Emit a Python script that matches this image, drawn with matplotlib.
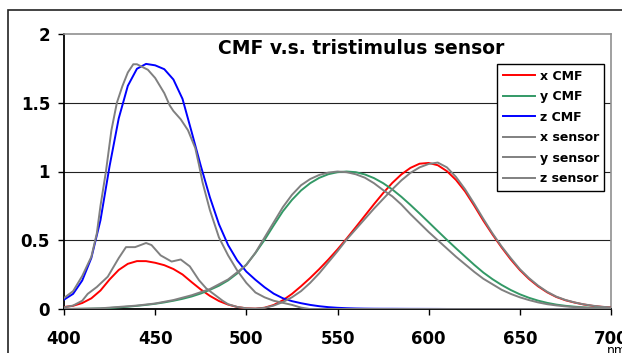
import matplotlib
matplotlib.use("Agg")
import matplotlib.pyplot as plt
from matplotlib.patches import Rectangle

# ---- CIE 1931 colour matching functions (5 nm steps, 400..700 nm) ----
wl_cmf = list(range(400, 705, 5))
x_cmf = [0.0143, 0.0232, 0.0435, 0.0776, 0.1344, 0.2148, 0.2839, 0.3285, 0.3483, 0.3481,
         0.3362, 0.3187, 0.2908, 0.2511, 0.1954, 0.1421, 0.0956, 0.0580, 0.0320, 0.0147,
         0.0049, 0.0024, 0.0093, 0.0291, 0.0633, 0.1096, 0.1655, 0.2257, 0.2904, 0.3597,
         0.4334, 0.5121, 0.5945, 0.6784, 0.7621, 0.8425, 0.9163, 0.9786, 1.0263, 1.0567,
         1.0622, 1.0456, 1.0026, 0.9384, 0.8544, 0.7514, 0.6424, 0.5419, 0.4479, 0.3608,
         0.2835, 0.2187, 0.1649, 0.1212, 0.0874, 0.0636, 0.0468, 0.0329, 0.0227, 0.0158,
         0.0114]
y_cmf = [0.0004, 0.0006, 0.0012, 0.0022, 0.0040, 0.0073, 0.0116, 0.0168, 0.0230, 0.0298,
         0.0380, 0.0480, 0.0600, 0.0739, 0.0910, 0.1126, 0.1390, 0.1693, 0.2080, 0.2586,
         0.3230, 0.4073, 0.5030, 0.6082, 0.7100, 0.7932, 0.8620, 0.9149, 0.9540, 0.9803,
         0.9950, 1.0000, 0.9950, 0.9786, 0.9520, 0.9154, 0.8700, 0.8163, 0.7570, 0.6949,
         0.6310, 0.5668, 0.5030, 0.4412, 0.3810, 0.3210, 0.2650, 0.2170, 0.1750, 0.1382,
         0.1070, 0.0816, 0.0610, 0.0446, 0.0320, 0.0232, 0.0170, 0.0119, 0.0082, 0.0057,
         0.0041]
z_cmf = [0.0679, 0.1102, 0.2074, 0.3713, 0.6456, 1.0391, 1.3856, 1.6230, 1.7471, 1.7826,
         1.7721, 1.7441, 1.6692, 1.5281, 1.2876, 1.0419, 0.8130, 0.6162, 0.4652, 0.3533,
         0.2720, 0.2123, 0.1582, 0.1117, 0.0783, 0.0573, 0.0422, 0.0298, 0.0203, 0.0134,
         0.0088, 0.0058, 0.0039, 0.0028, 0.0021, 0.0018, 0.0017, 0.0014, 0.0011, 0.0010,
         0.0008, 0.0006, 0.0003, 0.0002, 0.0002, 0.0001, 0.0001, 0.0000, 0.0000, 0.0000,
         0.0000, 0.0000, 0.0000, 0.0000, 0.0000, 0.0000, 0.0000, 0.0000, 0.0000, 0.0000,
         0.0000]

# ---- tristimulus sensor curves ----
wl_xs = [400, 405, 410, 413, 418, 424, 430, 434, 439, 445, 448, 453, 459, 464, 469, 474,
         478, 482, 487, 490, 495, 500, 505, 510, 515, 520, 525, 530, 535, 540, 545, 550,
         555, 560, 565, 570, 575, 580, 585, 590, 595, 600, 605, 610, 615, 620, 625, 630,
         635, 640, 645, 650, 655, 660, 665, 670, 675, 680, 685, 690, 695, 700]
x_sensor = [0.012, 0.025, 0.06, 0.11, 0.16, 0.235, 0.37, 0.45, 0.45, 0.48, 0.465, 0.39,
            0.345, 0.36, 0.31, 0.21, 0.15, 0.11, 0.06, 0.035, 0.015, 0.005, 0.003, 0.008,
            0.025, 0.05, 0.085, 0.13, 0.19, 0.26, 0.34, 0.42, 0.505, 0.58, 0.655, 0.73,
            0.80, 0.87, 0.935, 0.99, 1.03, 1.055, 1.065, 1.03, 0.96, 0.87, 0.765, 0.655,
            0.55, 0.455, 0.37, 0.29, 0.225, 0.17, 0.125, 0.09, 0.066, 0.048, 0.034, 0.024,
            0.016, 0.012]

wl_ys = [400, 420, 440, 450, 460, 470, 480, 490, 500, 505, 510, 515, 520, 525, 530, 535,
         540, 545, 550, 555, 560, 565, 570, 575, 580, 585, 590, 595, 600, 605, 610, 615,
         620, 625, 630, 635, 640, 645, 650, 655, 660, 665, 670, 675, 680, 690, 700]
y_sensor = [0.0, 0.005, 0.025, 0.04, 0.065, 0.10, 0.145, 0.215, 0.32, 0.41, 0.52, 0.63,
            0.74, 0.83, 0.90, 0.945, 0.975, 0.992, 1.0, 0.995, 0.98, 0.955, 0.915, 0.865,
            0.82, 0.76, 0.69, 0.625, 0.56, 0.50, 0.44, 0.38, 0.325, 0.27, 0.22, 0.18, 0.14,
            0.11, 0.085, 0.065, 0.048, 0.035, 0.026, 0.019, 0.014, 0.007, 0.003]

wl_zs = [400, 405, 410, 415, 418, 420, 423, 426, 429, 432, 435, 438, 440, 443, 446, 450,
         455, 458, 460, 464, 468, 472, 474, 476, 480, 485, 490, 495, 500, 505, 510, 515,
         520, 525, 530, 535, 560, 600, 650, 700]
z_sensor = [0.08, 0.13, 0.24, 0.38, 0.55, 0.75, 1.0, 1.3, 1.5, 1.62, 1.72, 1.78, 1.78,
            1.76, 1.74, 1.68, 1.57, 1.48, 1.44, 1.38, 1.30, 1.17, 1.05, 0.92, 0.72, 0.52,
            0.39, 0.28, 0.19, 0.12, 0.085, 0.06, 0.045, 0.03, 0.01, 0.0, 0.0, 0.0, 0.0, 0.0]

x_ticks = [400, 450, 500, 550, 600, 650, 700]
y_ticks = [0, 0.5, 1, 1.5, 2]
y_tick_labels = ["0", "0.5", "1", "1.5", "2"]
title = "CMF v.s. tristimulus sensor"

W, H = 622, 353
fig = plt.figure(figsize=(W / 100, H / 100), dpi=100)
fig.patch.set_facecolor("white")

# outer chart border (extends past right/bottom edges)
fig.patches.append(Rectangle((8 / W, -0.1), 1.2, 1 - 10 / H + 0.1, transform=fig.transFigure,
                             fill=False, edgecolor="#222222", linewidth=1.2, zorder=0))

ax = fig.add_axes([64 / W, 44 / H, (611 - 64) / W, (309 - 34) / H])
ax.set_xlim(400, 700)
ax.set_ylim(0, 2)

for yv in [0.5, 1, 1.5]:
    ax.axhline(yv, color="#222222", linewidth=0.8, zorder=1)

lw = 1.4
ax.plot(wl_cmf, x_cmf, color="#FF0000", lw=lw, label="x CMF", zorder=3)
ax.plot(wl_cmf, y_cmf, color="#339966", lw=lw, label="y CMF", zorder=3)
ax.plot(wl_cmf, z_cmf, color="#0000FF", lw=lw, label="z CMF", zorder=3)
ax.plot(wl_xs, x_sensor, color="#808080", lw=lw, label="x sensor", zorder=4)
ax.plot(wl_ys, y_sensor, color="#808080", lw=lw, label="y sensor", zorder=4)
ax.plot(wl_zs, z_sensor, color="#808080", lw=lw, label="z sensor", zorder=4)

ax.set_xticks(x_ticks)
ax.set_xticklabels([str(v) for v in x_ticks], fontweight="bold", fontsize=12)
ax.set_yticks(y_ticks)
ax.set_yticklabels(y_tick_labels, fontweight="bold", fontsize=12)
ax.tick_params(axis="x", direction="out", length=4, width=1, pad=11, colors="black")
ax.tick_params(axis="y", direction="out", length=4, width=1, pad=6, colors="black")

for s in ["left", "bottom"]:
    ax.spines[s].set_color("black")
    ax.spines[s].set_linewidth(1.3)
for s in ["top", "right"]:
    ax.spines[s].set_color("#909090")
    ax.spines[s].set_linewidth(1.2)

fig.text(361 / W, 1 - 48 / H, title, fontsize=13.5, fontweight="bold",
         ha="center", va="center")

leg = ax.legend(loc="upper left", bbox_to_anchor=(497 / W, 1 - 64 / H),
                bbox_transform=fig.transFigure, borderaxespad=0,
                prop={"weight": "bold", "size": 9}, handlelength=2.6,
                handletextpad=0.35, labelspacing=0.6, borderpad=0.45,
                fancybox=False, frameon=True, framealpha=1)
leg.get_frame().set_edgecolor("black")
leg.get_frame().set_linewidth(1.0)

fig.text(607 / W, 1 - 344 / H, "nm", fontsize=9, ha="left", va="top")

fig.savefig("out.png", dpi=100)
